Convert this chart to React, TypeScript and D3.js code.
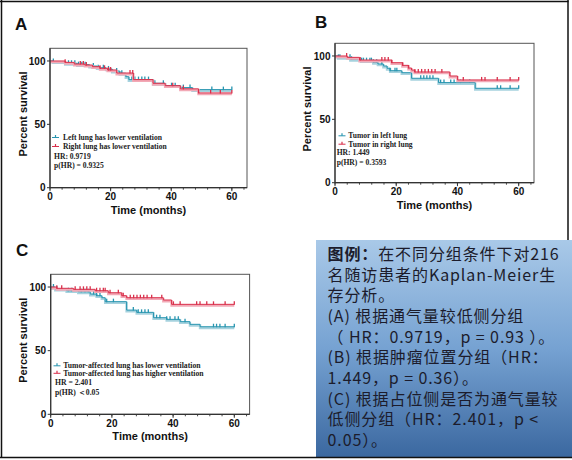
import React from "react";
import * as d3 from "d3";

// ---------- DATA ----------
const xTicksMajor = [0, 20, 40, 60];
const xTicksMinor = [0, 4, 8, 12, 16, 20, 24, 28, 32, 36, 40, 44, 48, 52, 56, 60, 64];
const yTicks = [0, 50, 100];

// Panel A
const aTealTimes = [0, 1, 5, 9, 13, 15.5, 18.5, 20.5, 23, 25, 26, 34, 38, 43, 47];
const aTealSurv = [100, 99.5, 98.2, 97.1, 96, 94.7, 93.7, 92.1, 90.3, 87.6, 85.3, 82.4, 80.5, 79, 77.4];
const aTealCensor = [1.1, 6.1, 7.1, 8.2, 9.4, 10.5, 11.6, 14.3, 15.9, 17.6, 19.3, 22, 23.7, 27, 28, 29.2, 30.3, 31.3, 32.5, 34.6, 37.4, 40.1, 41.3, 44, 46.2, 53.4, 57.2, 60];
const aRedTimes = [0, 5, 8, 11.5, 14, 16.5, 19, 22, 27.5, 34, 38, 43, 49];
const aRedSurv = [100, 98.9, 97.6, 96.8, 95.5, 94.2, 92.9, 90.5, 85.3, 82.4, 80.5, 78, 74.8];
const aRedCensor = [5, 10, 11, 12, 16.5, 18, 19.3, 20, 26.4, 27.3, 40.5, 44, 49, 53, 56.2, 60];

// Panel B
const bTealTimes = [0, 1, 5, 8.5, 12.5, 14, 15.8, 17, 18, 21.8, 25, 33.8, 45.8];
const bTealSurv = [100, 98.9, 97.4, 96.3, 95, 93.7, 92.1, 90.3, 88.4, 86.8, 82.4, 79, 74.5];
const bTealCensor = [1.1, 1.6, 4.9, 5.4, 8.7, 9.3, 10.3, 11.4, 11.9, 12.5, 13.6, 15.3, 18, 19.6, 20.2, 28, 29, 30, 31, 32, 34.5, 35.6, 37.8, 38.9, 41, 44, 53, 54.1, 57.2, 60];
const bRedTimes = [0, 4, 8, 18.5, 22, 24, 25, 26, 37.5, 40];
const bRedSurv = [100, 98.9, 96.8, 94.7, 92.6, 90.5, 88.9, 87.4, 84.2, 81.1];
const bRedCensor = [3.8, 8.2, 15.3, 16.3, 17.4, 18.5, 22.1, 24, 26.1, 27.2, 28.3, 29.4, 30.5, 31.6, 32.7, 34.9, 41.9, 47.9, 49, 53, 57.2, 60];

// Panel C
const cTealTimes = [0, 1.5, 5.2, 9, 12.9, 15, 16.7, 17.8, 24.8, 28.1, 33.6, 37.9, 42.3, 45.5, 48.8];
const cTealSurv = [100, 98.4, 97.1, 96.3, 94.5, 93.2, 91.6, 88.5, 81.9, 80.1, 75.9, 74.6, 72.8, 70.7, 68.8];
const cTealCensor = [0.9, 2, 5.8, 6.9, 10, 11.2, 12.3, 14, 15, 16.1, 18.3, 20.5, 27, 28.6, 29.7, 30.8, 31.9, 34.6, 35.7, 37.9, 39, 40.6, 41.7, 43.9, 53.2, 54.2, 55.3, 57, 60];
const cRedTimes = [0, 2, 7.4, 14.5, 18.8, 23.2, 24.8, 36.8, 39.5];
const cRedSurv = [100, 99, 98.2, 97.1, 95.5, 93.2, 91.6, 89.8, 86.4];
const cRedCensor = [2, 3.6, 8, 9.6, 10.7, 11.8, 12.9, 15, 16.1, 17.2, 17.8, 19.4, 22.1, 23.7, 26, 27.1, 28.2, 29.3, 30.4, 31.5, 33, 36.3, 40.1, 42.3, 47.7, 48.8, 51, 53.2, 57, 60];

const legendA = ["Left lung has lower ventilation", "Right lung has lower ventilation"];
const statsA = ["HR: 0.9719", "p(HR) = 0.9325"];
const legendB = ["Tumor in left lung", "Tumor in right lung"];
const statsB = ["HR: 1.449", "p(HR) = 0.3593"];
const legendC = ["Tumor-affected lung has lower ventilation", "Tumor-affected lung has higher ventilation"];
const statsC = ["HR = 2.401", "p(HR) \uFF1C0.05"];

const captionLines = [
  "在不同分组条件下对216",
  "名随访患者的Kaplan-Meier生",
  "存分析。",
  "(A) 根据通气量较低侧分组",
  "（ HR：0.9719，p = 0.93 ）。",
  "(B) 根据肿瘤位置分组（HR：",
  "1.449，p = 0.36）。",
  "(C) 根据占位侧是否为通气量较",
  "低侧分组（HR：2.401，p <",
  "0.05）。",
];
const captionTitle = "图例：";

// ---------- STYLE ----------
const TEAL = "#2895b0";
const TEAL_LIGHT = "#a6d2de";
const RED = "#d9304b";
const RED_LIGHT = "#f2a9b6";
const SANS = "'Liberation Sans', Arial, sans-serif";
const SERIF = "'Liberation Serif', 'Times New Roman', serif";

type Series = { times: number[]; surv: number[]; censor: number[]; color: string; light: string };

type PanelCfg = {
  letter: string;
  letterX: number;
  letterY: number;
  x0: number;
  x1: number;
  y0: number;
  y1: number;
  yTitleX: number;
  series: Series[];
  legend: string[];
  stats: string[];
  legX: number;
  legTextX: number;
  legY: number[];
  statX: number;
  statY: number[];
  legFont: number;
};

const panels: PanelCfg[] = [
  {
    letter: "A", letterX: 15, letterY: 30,
    x0: 50, x1: 247, y0: 187.7, y1: 48.3, yTitleX: 23,
    series: [
      { times: aTealTimes, surv: aTealSurv, censor: aTealCensor, color: TEAL, light: TEAL_LIGHT },
      { times: aRedTimes, surv: aRedSurv, censor: aRedCensor, color: RED, light: RED_LIGHT },
    ],
    legend: legendA, stats: statsA,
    legX: 52, legTextX: 63, legY: [140, 149], statX: 54, statY: [158.5, 167.5], legFont: 7.6,
  },
  {
    letter: "B", letterX: 315, letterY: 28.3,
    x0: 335, x1: 534, y0: 182.7, y1: 43.3, yTitleX: 307,
    series: [
      { times: bTealTimes, surv: bTealSurv, censor: bTealCensor, color: TEAL, light: TEAL_LIGHT },
      { times: bRedTimes, surv: bRedSurv, censor: bRedCensor, color: RED, light: RED_LIGHT },
    ],
    legend: legendB, stats: statsB,
    legX: 338.5, legTextX: 348.3, legY: [138.3, 146.7], statX: 336.7, statY: [155, 164.5], legFont: 7.6,
  },
  {
    letter: "C", letterX: 16, letterY: 256,
    x0: 50.7, x1: 249.6, y0: 414.3, y1: 274.3, yTitleX: 23,
    series: [
      { times: cTealTimes, surv: cTealSurv, censor: cTealCensor, color: TEAL, light: TEAL_LIGHT },
      { times: cRedTimes, surv: cRedSurv, censor: cRedCensor, color: RED, light: RED_LIGHT },
    ],
    legend: legendC, stats: statsC,
    legX: 53.5, legTextX: 63.3, legY: [368.3, 375.8], statX: 55, statY: [385, 394.5], legFont: 7.7,
  },
];

function survAt(s: Series, t: number) {
  let v = s.surv[0];
  for (let i = 0; i < s.times.length; i++) if (s.times[i] <= t) v = s.surv[i];
  return v;
}

function Panel({ p }: { p: PanelCfg }) {
  const x = d3.scaleLinear().domain([0, 65]).range([p.x0, p.x1]);
  const y = d3.scaleLinear().domain([0, 110]).range([p.y0, p.y1]);
  const line = d3
    .line<[number, number]>()
    .x((d) => x(d[0]))
    .y((d) => y(d[1]))
    .curve(d3.curveStepAfter);
  const midY = (p.y0 + p.y1) / 2 - 4;
  const midX = (p.x0 + p.x1) / 2;
  return (
    <g>
      <text x={p.letterX} y={p.letterY} fontFamily={SANS} fontWeight="bold" fontSize={17} fill="#111">
        {p.letter}
      </text>
      {p.series.map((s, i) => {
        const pts: [number, number][] = s.times.map((t, j) => [t, s.surv[j]] as [number, number]);
        pts.push([60, s.surv[s.surv.length - 1]]);
        const d = line(pts) || "";
        return (
          <g key={i}>
            <path d={d} fill="none" stroke={s.light} strokeWidth={2.4} transform="translate(0,1.2)" />
            <path d={d} fill="none" stroke={s.color} strokeWidth={1} />
            {s.censor.map((t, k) => {
              const v = survAt(s, t);
              return (
                <line key={k} x1={x(t)} x2={x(t)} y1={y(v) - 3} y2={y(v) + 0.5} stroke={s.color} strokeWidth={1.3} />
              );
            })}
          </g>
        );
      })}
      <rect x={p.x0} y={p.y1} width={p.x1 - p.x0} height={p.y0 - p.y1} fill="none" stroke="#555" strokeWidth={1} />
      <line x1={p.x0} x2={p.x0} y1={p.y1} y2={p.y0} stroke="#333" strokeWidth={1.2} />
      <line x1={p.x0} x2={p.x1} y1={p.y0} y2={p.y0} stroke="#333" strokeWidth={1.2} />
      {yTicks.map((t) => (
        <g key={t}>
          <line x1={p.x0 - 3} x2={p.x0} y1={y(t)} y2={y(t)} stroke="#333" strokeWidth={1} />
          <text x={p.x0 - 4.5} y={y(t)} dy="0.36em" textAnchor="end" fontFamily={SANS} fontWeight="bold" fontSize={10} fill="#111">
            {t}
          </text>
        </g>
      ))}
      {xTicksMinor.map((t) => (
        <line key={"m" + t} x1={x(t)} x2={x(t)} y1={p.y0} y2={p.y0 + 2} stroke="#333" strokeWidth={0.9} />
      ))}
      {xTicksMajor.map((t) => (
        <g key={t}>
          <line x1={x(t)} x2={x(t)} y1={p.y0} y2={p.y0 + 3.5} stroke="#333" strokeWidth={1} />
          <text x={x(t)} y={p.y0 + 12.5} textAnchor="middle" fontFamily={SANS} fontWeight="bold" fontSize={10} fill="#111">
            {t}
          </text>
        </g>
      ))}
      <text
        transform={`translate(${p.yTitleX},${midY}) rotate(-90)`}
        textAnchor="middle"
        dy="0.36em"
        fontFamily={SANS}
        fontWeight="bold"
        fontSize={11}
        fill="#111"
      >
        Percent survival
      </text>
      <text x={midX} y={p.y0 + 26} textAnchor="middle" fontFamily={SANS} fontWeight="bold" fontSize={11} fill="#111">
        Time (months)
      </text>
      {p.legend.map((lab, i) => {
        const s = p.series[i];
        const ly = p.legY[i] - 2.5;
        return (
          <g key={lab}>
            <line x1={p.legX} x2={p.legX + 7} y1={ly} y2={ly} stroke={s.color} strokeWidth={1} />
            <line x1={p.legX + 3.5} x2={p.legX + 3.5} y1={ly - 2.5} y2={ly} stroke={s.color} strokeWidth={1.2} />
            <text x={p.legTextX} y={p.legY[i]} fontFamily={SERIF} fontWeight="bold" fontSize={p.legFont} fill="#222">
              {lab}
            </text>
          </g>
        );
      })}
      {p.stats.map((st, i) => (
        <text key={st} x={p.statX} y={p.statY[i]} fontFamily={SERIF} fontWeight="bold" fontSize={p.legFont} fill="#222">
          {st}
        </text>
      ))}
    </g>
  );
}

export default function App() {
  const CJK = "'Noto Sans CJK SC', 'Noto Sans', sans-serif";
  const baseY = 260;
  const lh = 20.67;
  return (
    <svg width={572} height={460} style={{ position: "absolute", left: 0, top: 0, background: "#fff" }}>
      <defs>
        <linearGradient id="capg" x1="0" y1="0" x2="0" y2="1">
          <stop offset="0%" stopColor="#a9c9e8" />
          <stop offset="50%" stopColor="#76a2d2" />
          <stop offset="100%" stopColor="#3b68a0" />
        </linearGradient>
      </defs>
      <rect x={0} y={0} width={572} height={460} fill="#fff" />
      {panels.map((p) => (
        <Panel key={p.letter} p={p} />
      ))}
      <line x1={0} x2={568.5} y1={1.5} y2={1.5} stroke="#111" strokeWidth={1.5} />
      <line x1={1.5} x2={1.5} y1={0} y2={458} stroke="#111" strokeWidth={1.5} />
      <line x1={568} x2={568} y1={0} y2={241} stroke="#111" strokeWidth={1.5} />
      <rect x={316} y={240} width={256} height={217} fill="url(#capg)" />
      <line x1={0} x2={572} y1={457.5} y2={457.5} stroke="#111" strokeWidth={1.5} />
      <g fontFamily={CJK} fontSize={16} letterSpacing={0.9} fill="#1c1c2c">
        {captionLines.map((ln, i) => (
          <text key={i} x={327.5} y={baseY + i * lh}>
            {i === 0 ? <tspan fontWeight="bold">{captionTitle}</tspan> : null}
            {ln}
          </text>
        ))}
      </g>
    </svg>
  );
}
